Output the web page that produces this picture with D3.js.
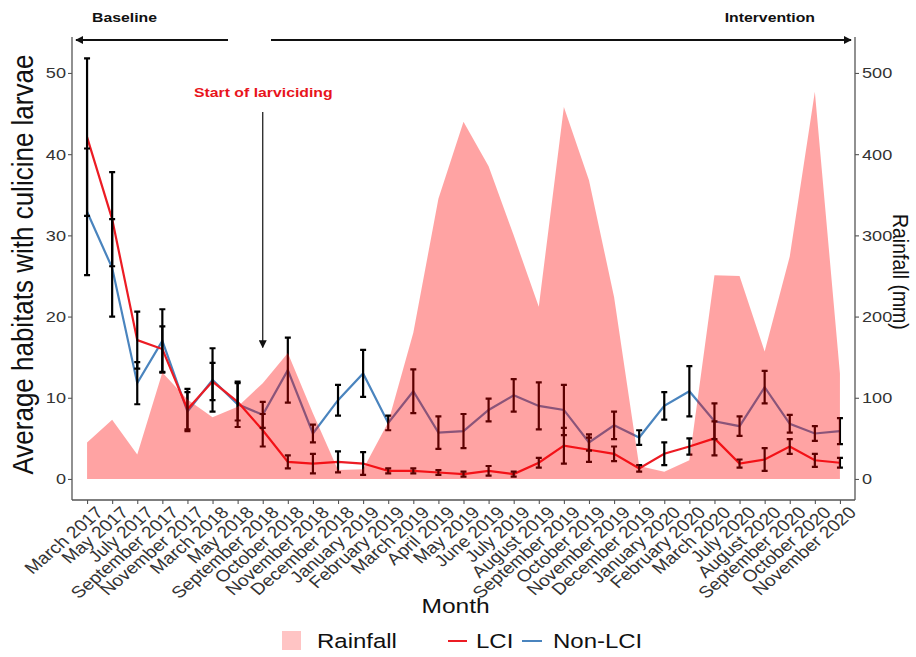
<!DOCTYPE html>
<html>
<head>
<meta charset="utf-8">
<script src="https://cdn.jsdelivr.net/npm/d3@7"></script>
<style>
  body { margin: 0; background: #fff; }
  svg { display: block; font-family: 'Liberation Sans', Arial, sans-serif; }
</style>
</head>
<body>
<div id="chart"></div>
<script>
// months on the x axis (as printed)
const months = [
  'March 2017', 'May 2017', 'July 2017', 'September 2017', 'November 2017',
  'March 2018', 'May 2018', 'September 2018', 'October 2018', 'November 2018',
  'December 2018', 'January 2019', 'February 2019', 'March 2019', 'April 2019',
  'May 2019', 'June 2019', 'July 2019', 'August 2019', 'September 2019',
  'October 2019', 'November 2019', 'December 2019', 'January 2020', 'February 2020',
  'March 2020', 'July 2020', 'August 2020', 'September 2020', 'October 2020',
  'November 2020'
]

// average habitats with culicine larvae, LCI
const lciMean = [42.1, 32.0, 17.1, 16.0, 8.6, 12.0, 9.5, 6.0, 2.1, 1.9, 2.1, 1.9, 1.0, 1.0, 0.8, 0.6,
  1.0, 0.6, 2.0, 4.1, 3.6, 3.1, 1.3, 3.1, 4.0, 5.0, 1.9, 2.4, 4.0, 2.3, 2.0]
const lciSe = [9.7, 5.8, 3.5, 2.8, 2.5, 2.3, 2.3, 2.0, 0.8, 1.2, 1.3, 1.4, 0.3, 0.3, 0.3, 0.3,
  0.6, 0.3, 0.6, 2.2, 1.5, 0.9, 0.4, 1.4, 1.0, 2.1, 0.5, 1.4, 0.9, 0.8, 0.6]

// Non-LCI
const nonMean = [32.9, 26.0, 11.8, 17.0, 8.3, 12.2, 9.2, 7.9, 13.4, 5.6, 9.7, 13.0, 6.9, 10.8, 5.7, 5.9,
  8.5, 10.3, 9.0, 8.5, 4.5, 6.6, 5.1, 9.0, 10.8, 7.1, 6.5, 11.3, 6.8, 5.6, 5.9]
const nonSe = [7.8, 6.0, 2.6, 3.9, 2.4, 3.9, 2.8, 1.6, 4.0, 1.1, 1.9, 2.9, 0.9, 2.7, 2.0, 2.1,
  1.4, 2.0, 2.9, 3.1, 1.0, 1.7, 0.9, 1.7, 3.1, 2.2, 1.2, 2.0, 1.1, 0.9, 1.6]

// monthly rainfall (mm)
const rainfall = [45, 73, 30, 131, 98, 76, 89, 118, 155, 81, 11, 12, 70, 180, 345, 440,
  385, 300, 212, 458, 368, 224, 16, 9, 23, 251, 250, 157, 274, 477, 130]

const leftTicks = [0, 10, 20, 30, 40, 50]
const rightTicks = [0, 100, 200, 300, 400, 500]

const W = 916
const H = 657
const PANEL = { left: 72, right: 855, top: 37, bottom: 500 }
const SX = 1.17 // the source figure is stretched sideways
const RED = '#EC1C24'
const BLUE = '#4A84BE'

const svg = d3.select('#chart').append('svg')
  .attr('width', W)
  .attr('height', H)

svg.append('rect').attr('width', W).attr('height', H).attr('fill', '#fff')

const x = d3.scalePoint()
  .domain(months)
  .range([PANEL.left, PANEL.right])
  .padding(0.6)

const yL = d3.scaleLinear()
  .domain([-2.59, 54.43])
  .range([PANEL.bottom, PANEL.top])

const yR = d3.scaleLinear()
  .domain([-25.9, 544.3])
  .range([PANEL.bottom, PANEL.top])

const rows = months.map((m, i) => ({
  month: m,
  lci: lciMean[i],
  lciSe: lciSe[i],
  non: nonMean[i],
  nonSe: nonSe[i],
  rain: rainfall[i]
}))

// --- axes ---
const axisColor = '#555'
const tickText = '#333'

const gL = svg.append('g')
  .attr('transform', `translate(${PANEL.left},0)`)
  .call(d3.axisLeft(yL).tickValues(leftTicks).tickSize(4).tickSizeOuter(0).tickPadding(4))
gL.select('.domain').attr('d', `M0,${PANEL.top}V${PANEL.bottom}`)

const gR = svg.append('g')
  .attr('transform', `translate(${PANEL.right},0)`)
  .call(d3.axisRight(yR).tickValues(rightTicks).tickSize(4).tickSizeOuter(0).tickPadding(4))
gR.select('.domain').attr('d', `M0,${PANEL.top}V${PANEL.bottom}`)

const gX = svg.append('g')
  .attr('transform', `translate(0,${PANEL.bottom})`)
  .call(d3.axisBottom(x).tickSize(4).tickSizeOuter(0))
gX.select('.domain').attr('d', `M${PANEL.left},0H${PANEL.right}`)

for (const g of [gL, gR, gX]) {
  g.select('.domain').attr('stroke', axisColor).attr('stroke-width', 1.3)
  g.selectAll('.tick line').attr('stroke', axisColor).attr('stroke-width', 1.1)
  g.selectAll('.tick text')
    .attr('fill', tickText)
    .attr('font-size', 15.5)
    .attr('font-family', "'Liberation Sans', Arial, sans-serif")
}
gL.selectAll('.tick text').attr('transform', `translate(-6,0) scale(${SX},1)`).attr('x', 0)
gR.selectAll('.tick text').attr('transform', `translate(7,0) scale(${SX},1)`).attr('x', 0)
gX.selectAll('.tick text')
  .attr('x', 0)
  .attr('y', 0)
  .attr('dy', '0.72em')
  .attr('text-anchor', 'end')
  .attr('font-size', 16.5)
  .attr('transform', `translate(7,5) scale(${SX},1) rotate(-45)`)

// --- series lines ---
const line = key => d3.line()
  .x(d => x(d.month))
  .y(d => yL(d[key]))

svg.append('path')
  .datum(rows)
  .attr('d', line('non'))
  .attr('fill', 'none')
  .attr('stroke', BLUE)
  .attr('stroke-width', 2.2)

svg.append('path')
  .datum(rows)
  .attr('d', line('lci'))
  .attr('fill', 'none')
  .attr('stroke', RED)
  .attr('stroke-width', 2.2)

// --- error bars ---
const cap = 3
const errs = rows.flatMap(d => [
  { month: d.month, lo: d.non - d.nonSe, hi: d.non + d.nonSe },
  { month: d.month, lo: d.lci - d.lciSe, hi: d.lci + d.lciSe }
])
const eb = svg.append('g').attr('stroke', '#000').attr('stroke-width', 2.2).attr('fill', 'none')
eb.selectAll('path')
  .data(errs)
  .join('path')
  .attr('d', d => {
    const cx = x(d.month)
    const y0 = yL(d.lo)
    const y1 = yL(d.hi)
    return `M${cx - cap},${y1}H${cx + cap}M${cx},${y1}V${y0}M${cx - cap},${y0}H${cx + cap}`
  })

// --- rainfall area, drawn over the lines with transparency ---
svg.append('path')
  .datum(rows)
  .attr('d', d3.area()
    .x(d => x(d.month))
    .y0(yR(0))
    .y1(d => yR(d.rain)))
  .attr('fill', '#FF0000')
  .attr('fill-opacity', 0.36)

// --- text helpers ---
function label (txt, px, py, opts = {}) {
  const rot = opts.rotate ? ` rotate(${opts.rotate})` : ''
  return svg.append('text')
    .attr('transform', `translate(${px},${py}) scale(${SX},1)${rot}`)
    .attr('text-anchor', opts.anchor || 'start')
    .attr('font-size', opts.size || 14)
    .attr('font-weight', opts.weight || 'normal')
    .attr('fill', opts.color || '#111')
    .text(txt)
}

// axis titles
label('Average habitats with culicine larvae', 33, yL(26.4), { rotate: -90, anchor: 'middle', size: 26 })
label('Rainfall (mm)', 893, yR(255), { rotate: 90, anchor: 'middle', size: 19.5 })
label('Month', x('June 2019') - 33, 613, { anchor: 'middle', size: 21 })

// --- period arrows ---
const defs = svg.append('defs')
defs.append('marker')
  .attr('id', 'head')
  .attr('viewBox', '0 0 10 10')
  .attr('refX', 9)
  .attr('refY', 5)
  .attr('markerWidth', 8)
  .attr('markerHeight', 8)
  .attr('markerUnits', 'userSpaceOnUse')
  .attr('orient', 'auto')
  .append('path')
  .attr('d', 'M0,0L10,5L0,10Z')
  .attr('fill', '#111')

const arrowY = 40
svg.append('line')
  .attr('x1', 228).attr('y1', arrowY).attr('x2', 76).attr('y2', arrowY)
  .attr('stroke', '#111').attr('stroke-width', 1.8)
  .attr('marker-end', 'url(#head)')
svg.append('line')
  .attr('x1', 271).attr('y1', arrowY).attr('x2', 851).attr('y2', arrowY)
  .attr('stroke', '#111').attr('stroke-width', 1.8)
  .attr('marker-end', 'url(#head)')

label('Baseline', 92, 22, { size: 13.5, weight: 'bold' })
label('Intervention', 815, 22, { size: 13.5, weight: 'bold', anchor: 'end' })

// start of larviciding
const startX = x('September 2018')
label('Start of larviciding', 194, 97, { size: 13.5, weight: 'bold', color: '#E8141C' })
svg.append('line')
  .attr('x1', startX).attr('y1', yL(45.2))
  .attr('x2', startX).attr('y2', yL(16.2))
  .attr('stroke', '#222').attr('stroke-width', 1.3)
  .attr('marker-end', 'url(#head)')

// --- legend ---
const lg = svg.append('g')
lg.append('rect')
  .attr('x', 282).attr('y', 631).attr('width', 19).attr('height', 19)
  .attr('fill', '#FFC4C4')
label('Rainfall', 317, 648, { size: 20.5 })
lg.append('line')
  .attr('x1', 448).attr('x2', 467).attr('y1', 641).attr('y2', 641)
  .attr('stroke', RED).attr('stroke-width', 2)
label('LCI', 476, 648, { size: 20.5 })
lg.append('line')
  .attr('x1', 522).attr('x2', 542).attr('y1', 641).attr('y2', 641)
  .attr('stroke', BLUE).attr('stroke-width', 2)
label('Non-LCI', 553, 648, { size: 20.5 })
</script>
</body>
</html>
